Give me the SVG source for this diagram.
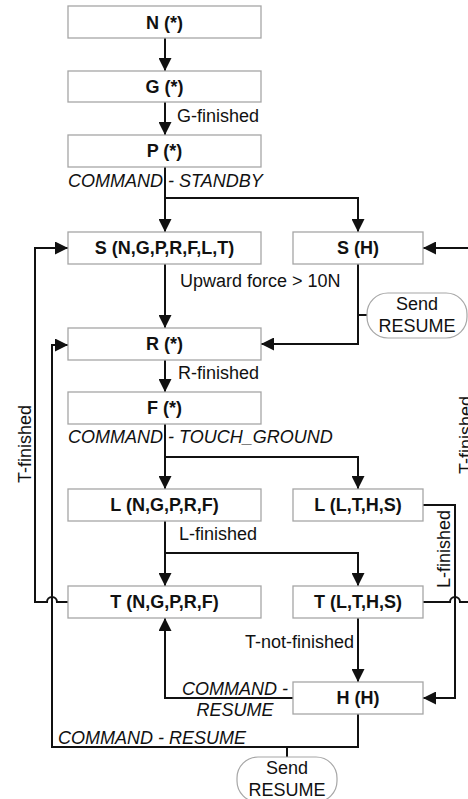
<svg xmlns="http://www.w3.org/2000/svg" width="468" height="799" viewBox="0 0 468 799">
<style>
.box{fill:#fff;stroke:#a6a6a6;stroke-width:1.3}
.pill{fill:#fff;stroke:#a6a6a6;stroke-width:1.2}
.bl{font-family:"Liberation Sans",Arial,sans-serif;font-size:18px;font-weight:bold;fill:#111;text-anchor:middle}
.lb{font-family:"Liberation Sans",Arial,sans-serif;font-size:18px;fill:#111}
.it{font-style:italic}
.mid{text-anchor:middle}
.end{text-anchor:end}
.cn{fill:none;stroke:#111;stroke-width:2}
.ar{marker-end:url(#ah)}
</style>
<defs>
<marker id="ah" markerUnits="userSpaceOnUse" markerWidth="13" markerHeight="13" refX="13" refY="6.5" orient="auto">
<path d="M0,0 L13,6.5 L0,13 z" fill="#111"/>
</marker>
</defs>
<rect width="468" height="799" fill="#fff"/>

<g id="connectors">
<path class="cn ar" d="M165,38 V71"/>
<path class="cn ar" d="M165,102 V135"/>
<path class="cn ar" d="M165,167 V232"/>
<path class="cn ar" d="M165,198 H358 V232"/>
<path class="cn ar" d="M468,248 H423"/>
<path class="cn ar" d="M165,264 V328"/>
<path class="cn ar" d="M358,264 V344 H261"/>
<path class="cn" d="M358,315 H367"/>
<path class="cn ar" d="M165,360 V392"/>
<path class="cn ar" d="M165,424 V489"/>
<path class="cn ar" d="M165,457 H358 V489"/>
<path class="cn ar" d="M165,521 V586"/>
<path class="cn ar" d="M165,553 H358 V586"/>
<path class="cn ar" d="M423,505 H455 V698 H423"/>
<path class="cn ar" d="M68,602 H57 A5,5 0 0 0 47,602 H35 V248 H68"/>
<path class="cn" d="M423,602 H450 A5,5 0 0 1 460,602 H468"/>
<path class="cn ar" d="M358,618 V682"/>
<path class="cn ar" d="M293,698 H165 V618"/>
<path class="cn ar" d="M358,714 V747 H52 V345 H68"/>
<path class="cn" d="M287,747 V757"/>
</g>

<g id="edge-labels">
<text class="lb" x="177" y="122">G-finished</text>
<text class="lb it" x="68" y="187">COMMAND - STANDBY</text>
<text class="lb" x="180" y="287">Upward force &gt; 10N</text>
<text class="lb" x="178" y="379">R-finished</text>
<text class="lb it" x="68" y="443">COMMAND - TOUCH_GROUND</text>
<text class="lb" x="179" y="540">L-finished</text>
<text class="lb end" x="354" y="648">T-not-finished</text>
<text class="lb it mid" x="235" y="695">COMMAND -</text>
<text class="lb it mid" x="235" y="716">RESUME</text>
<text class="lb it" x="58" y="744">COMMAND - RESUME</text>
<text class="lb mid" transform="translate(31,444) rotate(-90)">T-finished</text>
<text class="lb mid" transform="translate(472,435) rotate(-90)">T-finished</text>
<text class="lb mid" transform="translate(450,549) rotate(-90)">L-finished</text>
</g>

<g id="node-N"><rect class="box" x="68" y="6" width="193" height="32"/><text class="bl" x="164.5" y="28.5">N (*)</text></g>
<g id="node-G"><rect class="box" x="68" y="71" width="193" height="31"/><text class="bl" x="164.5" y="93">G (*)</text></g>
<g id="node-P"><rect class="box" x="68" y="135" width="193" height="32"/><text class="bl" x="164.5" y="157">P (*)</text></g>
<g id="node-S1"><rect class="box" x="68" y="232" width="193" height="32"/><text class="bl" x="164.5" y="254">S (N,G,P,R,F,L,T)</text></g>
<g id="node-S2"><rect class="box" x="293" y="232" width="130" height="32"/><text class="bl" x="358" y="254">S (H)</text></g>
<g id="node-send1"><rect class="pill" x="367" y="293" width="100" height="45" rx="21" ry="21"/><text class="lb mid" x="417" y="310">Send</text><text class="lb mid" x="417" y="332">RESUME</text></g>
<g id="node-R"><rect class="box" x="68" y="328" width="193" height="32"/><text class="bl" x="164.5" y="350">R (*)</text></g>
<g id="node-F"><rect class="box" x="68" y="392" width="193" height="32"/><text class="bl" x="164.5" y="414">F (*)</text></g>
<g id="node-L1"><rect class="box" x="68" y="489" width="193" height="32"/><text class="bl" x="164.5" y="511">L (N,G,P,R,F)</text></g>
<g id="node-L2"><rect class="box" x="293" y="489" width="130" height="32"/><text class="bl" x="358" y="511">L (L,T,H,S)</text></g>
<g id="node-T1"><rect class="box" x="68" y="586" width="193" height="32"/><text class="bl" x="164.5" y="608">T (N,G,P,R,F)</text></g>
<g id="node-T2"><rect class="box" x="293" y="586" width="130" height="32"/><text class="bl" x="358" y="608">T (L,T,H,S)</text></g>
<g id="node-H"><rect class="box" x="293" y="682" width="130" height="32"/><text class="bl" x="358" y="704">H (H)</text></g>
<g id="node-send2"><rect class="pill" x="237" y="757" width="100" height="45" rx="21" ry="21"/><text class="lb mid" x="287" y="774">Send</text><text class="lb mid" x="287" y="796">RESUME</text></g>
</svg>
